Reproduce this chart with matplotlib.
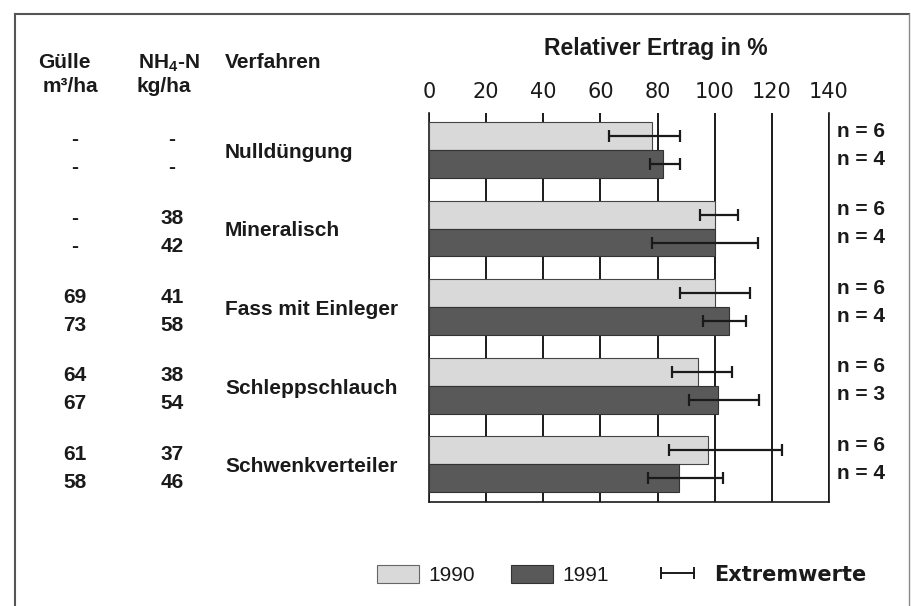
import matplotlib
matplotlib.use("Agg")
import matplotlib.pyplot as plt
from matplotlib.patches import Patch
from matplotlib.lines import Line2D
from matplotlib.transforms import blended_transform_factory
import numpy as np

plt.rcParams['font.family'] = ['Liberation Sans', 'DejaVu Sans']

verfahren = ["Nulldüngung", "Mineralisch", "Fass mit Einleger", "Schleppschlauch", "Schwenkverteiler"]
guelle_1990 = ["-", "-", "69", "64", "61"]
guelle_1991 = ["-", "-", "73", "67", "58"]
nh4_1990 = ["-", "38", "41", "38", "37"]
nh4_1991 = ["-", "42", "58", "54", "46"]

ertrag_1990 = [78, 100, 100, 94, 97.5]
ertrag_1991 = [82, 100, 105, 101, 87.5]
min_1990 = [63, 95, 88, 85, 84]
max_1990 = [88, 108, 112.5, 106, 123.5]
min_1991 = [77.5, 78, 96, 91, 76.5]
max_1991 = [88, 115, 111, 115.5, 103]
n_1990 = [6, 6, 6, 6, 6]
n_1991 = [4, 4, 4, 3, 4]
xticks = [0, 20, 40, 60, 80, 100, 120, 140]

light = "#d9d9d9"
dark = "#595959"
ink = "#1a1a1a"

fig = plt.figure(figsize=(9.12, 6.06), dpi=100)
ax = fig.add_axes([429/912, 1-502/606, 400/912, 389/606])

y = np.arange(len(verfahren))
h = 0.356
off = h/2
ax.barh(y - off, ertrag_1990, height=h, color=light, edgecolor="#444444", linewidth=0.8, zorder=3)
ax.barh(y + off, ertrag_1991, height=h, color=dark, edgecolor="#333333", linewidth=0.8, zorder=3)

e90 = np.array(ertrag_1990)
e91 = np.array(ertrag_1991)
ax.errorbar(e90, y - off, xerr=[e90 - np.array(min_1990), np.array(max_1990) - e90],
            fmt='none', ecolor=ink, elinewidth=1.6, capsize=4, capthick=1.6, zorder=4)
ax.errorbar(e91, y + off, xerr=[e91 - np.array(min_1991), np.array(max_1991) - e91],
            fmt='none', ecolor=ink, elinewidth=1.6, capsize=4, capthick=1.6, zorder=4)

ax.set_xlim(0, 140)
ax.set_ylim(4.48, -0.47)
ax.set_xticks(xticks)
ax.set_xticklabels([str(t) for t in xticks], fontsize=15, family='DejaVu Sans')
ax.xaxis.tick_top()
ax.tick_params(axis='x', length=0, pad=8, colors=ink)
ax.set_yticks([])
ax.grid(axis='x', color=ink, linewidth=1.4, zorder=1)
ax.set_axisbelow(True)
ax.spines['top'].set_visible(False)
for s in ['left', 'bottom', 'right']:
    ax.spines[s].set_color(ink)
    ax.spines[s].set_linewidth(1.2)

fig.text(656/912, 1-49/606, "Relativer Ertrag in %", ha='center', va='center',
         fontsize=16.5, fontweight='bold', color=ink)

# left table
fs = 15
bt = blended_transform_factory(fig.transFigure, ax.transData)
tk = dict(fontsize=fs, fontweight='bold', color=ink, va='center')
hk = dict(va='center', fontsize=fs, fontweight='bold', color=ink)
fig.text(64/912, 1-63/606, "Gülle", ha='center', **hk)
fig.text(70/912, 1-87/606, "m³/ha", ha='center', **hk)
fig.text(169/912, 1-63/606, r"NH$_\mathregular{4}$-N", ha='center', **hk)
fig.text(164/912, 1-87/606, "kg/ha", ha='center', **hk)
fig.text(225/912, 1-63/606, "Verfahren", ha='left', **hk)

for i, name in enumerate(verfahren):
    ax.text(225/912, y[i] + 0.03, name, transform=bt, ha='left', **tk)
    ax.text(75/912, y[i] - off + 0.05, guelle_1990[i], transform=bt, ha='center', **tk)
    ax.text(75/912, y[i] + off + 0.05, guelle_1991[i], transform=bt, ha='center', **tk)
    ax.text(172/912, y[i] - off + 0.05, nh4_1990[i], transform=bt, ha='center', **tk)
    ax.text(172/912, y[i] + off + 0.05, nh4_1991[i], transform=bt, ha='center', **tk)
    ax.text(837/912, y[i] - off - 0.06, f"n = {n_1990[i]}", transform=bt, ha='left', **tk)
    ax.text(837/912, y[i] + off - 0.06, f"n = {n_1991[i]}", transform=bt, ha='left', **tk)

# legend (three entries placed individually)
ly = 1 - 575/606
leg_specs = [
    (Patch(facecolor=light, edgecolor="#666666", linewidth=0.8), "1990", 377, 15, 'normal', 2.0, 0.45),
    (Patch(facecolor=dark, edgecolor="#333333", linewidth=0.8), "1991", 511, 15, 'normal', 2.0, 0.45),
    (Line2D([0, 1], [0, 0], color=ink, linewidth=1.4, marker='|', markersize=9, markeredgewidth=1.4),
     "Extremwerte", 655, 15, 'bold', 2.15, 0.7),
]
for handle, label, x0, size, weight, hl, tp in leg_specs:
    lg = fig.legend([handle], [label], loc='center left', bbox_to_anchor=(x0/912, ly),
                    frameon=False, numpoints=2, borderpad=0, borderaxespad=0,
                    prop={'size': size, 'weight': weight,
                          'family': ['DejaVu Sans'] if weight == 'bold' else ['Liberation Sans']},
                    handlelength=hl, handleheight=0.95, handletextpad=tp)
    for t in lg.get_texts():
        t.set_color(ink)

# frame around figure
fig.add_artist(Line2D([15/912, 15/912], [0, 1-14/606], transform=fig.transFigure, color="#555555", lw=1.5))
fig.add_artist(Line2D([15/912, 909/912], [1-14/606, 1-14/606], transform=fig.transFigure, color="#555555", lw=1.5))
fig.add_artist(Line2D([909/912, 909/912], [0, 1-14/606], transform=fig.transFigure, color="#888888", lw=1.0))

fig.savefig("out.png", dpi=100)
